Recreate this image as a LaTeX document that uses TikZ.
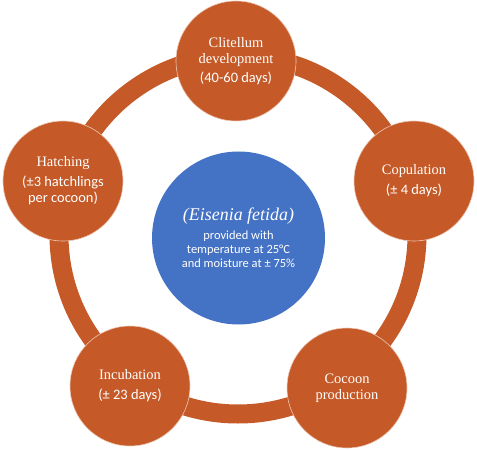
\documentclass[tikz,border=0pt]{standalone}
\usepackage{fontspec}
\setmainfont{Liberation Serif}
\newfontfamily\timesr{Liberation Serif}
\newfontfamily\calib{Carlito}
\definecolor{rust}{RGB}{197,90,40}
\definecolor{rustedge}{RGB}{236,200,180}
\definecolor{cornflower}{RGB}{68,114,196}
\newcommand{\detail}[1]{{\calib #1}}

\begin{document}
\begin{tikzpicture}[
      x=1bp, y=-1bp,
      stage/.style={circle, draw=rustedge, line width=0.6bp, fill=rust,
                    minimum size=120bp, inner sep=0pt, text=white,
                    align=center, font=\timesr\fontsize{14.5}{16}\selectfont},
      core/.style={circle, fill=cornflower, minimum size=173bp,
                   inner sep=0pt, text=white, align=center,
                   font=\calib\fontsize{12.5}{14}\selectfont},
      ring/.style={draw=rust, line width=19bp}
    ]
    \useasboundingbox (0,0) rectangle (477,450);
    \coordinate (hub) at (238,235);
    \draw[ring] (hub) circle (179);
    \node[core] (eis) at (238.5,238)
      {{\timesr\itshape\fontsize{18}{20}\selectfont (Eisenia fetida)}\\[5pt]
       provided with\\temperature at 25°C\\and moisture at ± 75\%};
    \node[stage] (clit) at (236,61)
      {Clitellum\\development\\[3pt]\detail{(40-60 days)}};
    \node[stage] (cop)  at (414,181)
      {Copulation\\[4pt]\detail{(± 4 days)}};
    \node[stage] (coc)  at (347,388)
      {Cocoon\\production};
    \node[stage] (inc)  at (130,386)
      {Incubation\\[4pt]\detail{(± 23 days)}};
    \node[stage] (hat)  at (63,181)
      {Hatching\\[4pt]\detail{(±3 hatchlings}\\\detail{per cocoon)}};
  \end{tikzpicture}
\end{document}
